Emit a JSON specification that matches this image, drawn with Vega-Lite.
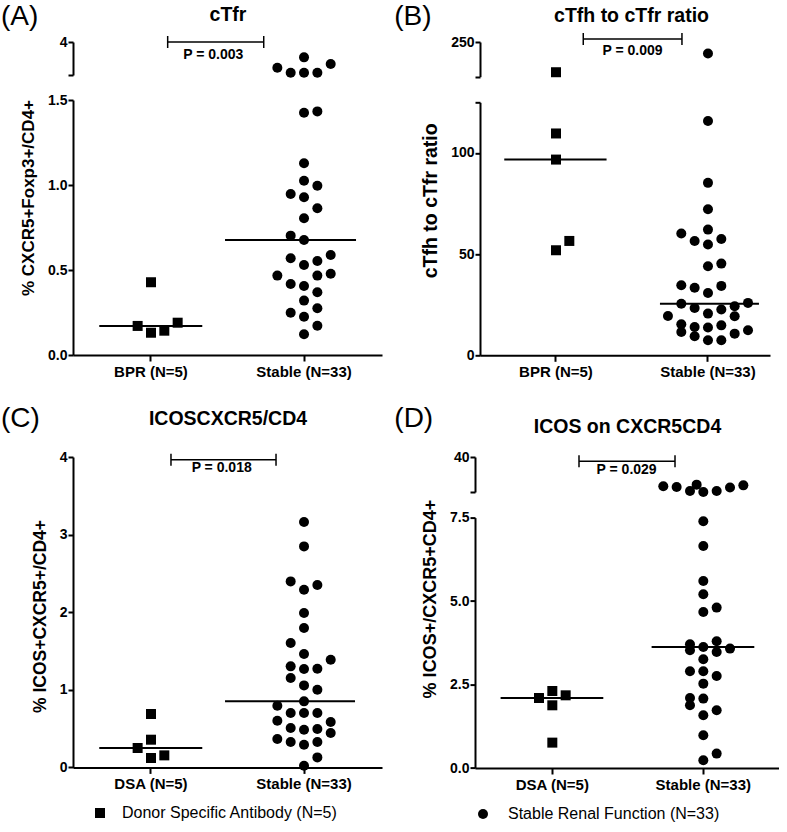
{
  "$schema": "https://vega.github.io/schema/vega-lite/v6.json",
  "padding": {"left": 0, "top": 2, "right": 0, "bottom": 0},
  "background": "white",
  "datasets": {
    "A": [
      {"group": "BPR (N=5)", "slot": 0, "value": 0.428},
      {"group": "BPR (N=5)", "slot": -1, "value": 0.171},
      {"group": "BPR (N=5)", "slot": 0, "value": 0.131},
      {"group": "BPR (N=5)", "slot": 1, "value": 0.143},
      {"group": "BPR (N=5)", "slot": 2, "value": 0.19},
      {"group": "Stable (N=33)", "slot": 0, "value": 3.07},
      {"group": "Stable (N=33)", "slot": -2, "value": 2.44},
      {"group": "Stable (N=33)", "slot": 2, "value": 2.67},
      {"group": "Stable (N=33)", "slot": -1, "value": 2.14},
      {"group": "Stable (N=33)", "slot": 0, "value": 2.14},
      {"group": "Stable (N=33)", "slot": 1, "value": 2.14},
      {"group": "Stable (N=33)", "slot": 0, "value": 1.425},
      {"group": "Stable (N=33)", "slot": 1, "value": 1.433},
      {"group": "Stable (N=33)", "slot": 0, "value": 1.128},
      {"group": "Stable (N=33)", "slot": 0, "value": 1.025},
      {"group": "Stable (N=33)", "slot": 1, "value": 0.996},
      {"group": "Stable (N=33)", "slot": -1, "value": 0.947},
      {"group": "Stable (N=33)", "slot": 0, "value": 0.928},
      {"group": "Stable (N=33)", "slot": 1, "value": 0.863},
      {"group": "Stable (N=33)", "slot": 0, "value": 0.804},
      {"group": "Stable (N=33)", "slot": -1, "value": 0.702},
      {"group": "Stable (N=33)", "slot": 0, "value": 0.676},
      {"group": "Stable (N=33)", "slot": -1, "value": 0.569},
      {"group": "Stable (N=33)", "slot": 2, "value": 0.588},
      {"group": "Stable (N=33)", "slot": 0, "value": 0.529},
      {"group": "Stable (N=33)", "slot": 1, "value": 0.553},
      {"group": "Stable (N=33)", "slot": -2, "value": 0.467},
      {"group": "Stable (N=33)", "slot": 1, "value": 0.467},
      {"group": "Stable (N=33)", "slot": 2, "value": 0.478},
      {"group": "Stable (N=33)", "slot": -1, "value": 0.418},
      {"group": "Stable (N=33)", "slot": 0, "value": 0.406},
      {"group": "Stable (N=33)", "slot": 1, "value": 0.369},
      {"group": "Stable (N=33)", "slot": 0, "value": 0.32},
      {"group": "Stable (N=33)", "slot": -1, "value": 0.249},
      {"group": "Stable (N=33)", "slot": 1, "value": 0.275},
      {"group": "Stable (N=33)", "slot": 0, "value": 0.225},
      {"group": "Stable (N=33)", "slot": 1, "value": 0.172},
      {"group": "Stable (N=33)", "slot": 0, "value": 0.122}
    ],
    "B": [
      {"group": "BPR (N=5)", "slot": 0, "value": 162.9},
      {"group": "BPR (N=5)", "slot": 0, "value": 109.6},
      {"group": "BPR (N=5)", "slot": 0, "value": 96.7},
      {"group": "BPR (N=5)", "slot": 0, "value": 51.9},
      {"group": "BPR (N=5)", "slot": 1, "value": 56.5},
      {"group": "Stable (N=33)", "slot": 0, "value": 216.8},
      {"group": "Stable (N=33)", "slot": 0, "value": 115.8},
      {"group": "Stable (N=33)", "slot": 0, "value": 85.2},
      {"group": "Stable (N=33)", "slot": 0, "value": 72.2},
      {"group": "Stable (N=33)", "slot": -2, "value": 60.2},
      {"group": "Stable (N=33)", "slot": 0, "value": 62.1},
      {"group": "Stable (N=33)", "slot": -1, "value": 56.5},
      {"group": "Stable (N=33)", "slot": 0, "value": 54.7},
      {"group": "Stable (N=33)", "slot": 1, "value": 57.5},
      {"group": "Stable (N=33)", "slot": 0, "value": 44.0},
      {"group": "Stable (N=33)", "slot": 1, "value": 45.3},
      {"group": "Stable (N=33)", "slot": -2, "value": 34.6},
      {"group": "Stable (N=33)", "slot": -1, "value": 33.4},
      {"group": "Stable (N=33)", "slot": 0, "value": 30.8},
      {"group": "Stable (N=33)", "slot": 1, "value": 34.3},
      {"group": "Stable (N=33)", "slot": -2, "value": 25.5},
      {"group": "Stable (N=33)", "slot": -1, "value": 23.4},
      {"group": "Stable (N=33)", "slot": 0, "value": 20.6},
      {"group": "Stable (N=33)", "slot": 1, "value": 22.6},
      {"group": "Stable (N=33)", "slot": 2, "value": 24.2},
      {"group": "Stable (N=33)", "slot": 3, "value": 25.9},
      {"group": "Stable (N=33)", "slot": -3, "value": 19.4},
      {"group": "Stable (N=33)", "slot": 2, "value": 19.3},
      {"group": "Stable (N=33)", "slot": -2, "value": 15.3},
      {"group": "Stable (N=33)", "slot": -1, "value": 14.0},
      {"group": "Stable (N=33)", "slot": 0, "value": 13.7},
      {"group": "Stable (N=33)", "slot": 1, "value": 14.8},
      {"group": "Stable (N=33)", "slot": -2, "value": 11.5},
      {"group": "Stable (N=33)", "slot": -1, "value": 9.4},
      {"group": "Stable (N=33)", "slot": 0, "value": 7.4},
      {"group": "Stable (N=33)", "slot": 1, "value": 7.4},
      {"group": "Stable (N=33)", "slot": 2, "value": 10.7},
      {"group": "Stable (N=33)", "slot": 3, "value": 12.4}
    ],
    "C": [
      {"group": "DSA (N=5)", "slot": 0, "value": 0.688},
      {"group": "DSA (N=5)", "slot": 0, "value": 0.357},
      {"group": "DSA (N=5)", "slot": -1, "value": 0.25},
      {"group": "DSA (N=5)", "slot": 0, "value": 0.121},
      {"group": "DSA (N=5)", "slot": 1, "value": 0.155},
      {"group": "Stable (N=33)", "slot": 0, "value": 3.162},
      {"group": "Stable (N=33)", "slot": 0, "value": 2.848},
      {"group": "Stable (N=33)", "slot": -1, "value": 2.397},
      {"group": "Stable (N=33)", "slot": 0, "value": 2.29},
      {"group": "Stable (N=33)", "slot": 1, "value": 2.35},
      {"group": "Stable (N=33)", "slot": 0, "value": 1.99},
      {"group": "Stable (N=33)", "slot": 0, "value": 1.796},
      {"group": "Stable (N=33)", "slot": -1, "value": 1.603},
      {"group": "Stable (N=33)", "slot": 0, "value": 1.461},
      {"group": "Stable (N=33)", "slot": 2, "value": 1.388},
      {"group": "Stable (N=33)", "slot": -1, "value": 1.302},
      {"group": "Stable (N=33)", "slot": 0, "value": 1.268},
      {"group": "Stable (N=33)", "slot": 1, "value": 1.272},
      {"group": "Stable (N=33)", "slot": -1, "value": 1.152},
      {"group": "Stable (N=33)", "slot": 0, "value": 1.057},
      {"group": "Stable (N=33)", "slot": 1, "value": 1.001},
      {"group": "Stable (N=33)", "slot": 0, "value": 0.851},
      {"group": "Stable (N=33)", "slot": -2, "value": 0.795},
      {"group": "Stable (N=33)", "slot": -1, "value": 0.701},
      {"group": "Stable (N=33)", "slot": 0, "value": 0.701},
      {"group": "Stable (N=33)", "slot": 1, "value": 0.701},
      {"group": "Stable (N=33)", "slot": -2, "value": 0.602},
      {"group": "Stable (N=33)", "slot": 2, "value": 0.585},
      {"group": "Stable (N=33)", "slot": -1, "value": 0.508},
      {"group": "Stable (N=33)", "slot": 0, "value": 0.486},
      {"group": "Stable (N=33)", "slot": 1, "value": 0.495},
      {"group": "Stable (N=33)", "slot": 2, "value": 0.443},
      {"group": "Stable (N=33)", "slot": -2, "value": 0.366},
      {"group": "Stable (N=33)", "slot": -1, "value": 0.327},
      {"group": "Stable (N=33)", "slot": 0, "value": 0.293},
      {"group": "Stable (N=33)", "slot": 1, "value": 0.327},
      {"group": "Stable (N=33)", "slot": 1, "value": 0.129},
      {"group": "Stable (N=33)", "slot": 0, "value": 0.022}
    ],
    "D": [
      {"group": "DSA (N=5)", "slot": 0, "value": 2.306},
      {"group": "DSA (N=5)", "slot": -1, "value": 2.096},
      {"group": "DSA (N=5)", "slot": 1, "value": 2.177},
      {"group": "DSA (N=5)", "slot": 0, "value": 1.878},
      {"group": "DSA (N=5)", "slot": 0, "value": 0.76},
      {"group": "Stable (N=33)", "slot": -3, "value": 14.9},
      {"group": "Stable (N=33)", "slot": -2, "value": 14.3},
      {"group": "Stable (N=33)", "slot": -0.5, "value": 16.3},
      {"group": "Stable (N=33)", "slot": -1, "value": 10.9},
      {"group": "Stable (N=33)", "slot": 0, "value": 10.0},
      {"group": "Stable (N=33)", "slot": 1, "value": 10.9},
      {"group": "Stable (N=33)", "slot": 2, "value": 13.8},
      {"group": "Stable (N=33)", "slot": 3, "value": 15.7},
      {"group": "Stable (N=33)", "slot": 0, "value": 7.388},
      {"group": "Stable (N=33)", "slot": 0, "value": 6.649},
      {"group": "Stable (N=33)", "slot": 0, "value": 5.601},
      {"group": "Stable (N=33)", "slot": 0, "value": 5.202},
      {"group": "Stable (N=33)", "slot": 0, "value": 4.672},
      {"group": "Stable (N=33)", "slot": 1, "value": 4.804},
      {"group": "Stable (N=33)", "slot": -1, "value": 3.705},
      {"group": "Stable (N=33)", "slot": -1, "value": 3.525},
      {"group": "Stable (N=33)", "slot": 0, "value": 3.624},
      {"group": "Stable (N=33)", "slot": 1, "value": 3.795},
      {"group": "Stable (N=33)", "slot": 1, "value": 3.474},
      {"group": "Stable (N=33)", "slot": 2, "value": 3.576},
      {"group": "Stable (N=33)", "slot": 0, "value": 3.255},
      {"group": "Stable (N=33)", "slot": -1, "value": 2.896},
      {"group": "Stable (N=33)", "slot": 0, "value": 2.896},
      {"group": "Stable (N=33)", "slot": 1, "value": 2.756},
      {"group": "Stable (N=33)", "slot": 0, "value": 2.527},
      {"group": "Stable (N=33)", "slot": -1, "value": 2.096},
      {"group": "Stable (N=33)", "slot": -1, "value": 1.878},
      {"group": "Stable (N=33)", "slot": 0, "value": 2.078},
      {"group": "Stable (N=33)", "slot": 0, "value": 1.578},
      {"group": "Stable (N=33)", "slot": 1, "value": 1.728},
      {"group": "Stable (N=33)", "slot": 0, "value": 0.979},
      {"group": "Stable (N=33)", "slot": 0, "value": 0.231},
      {"group": "Stable (N=33)", "slot": 1, "value": 0.431}
    ]
  },
  "spacing": 24,
  "resolve": {"scale": {"shape": "independent"}, "legend": {"shape": "independent"}},
  "vconcat": [
    {
      "spacing": 12,
      "resolve": {"scale": {"shape": "independent"}, "legend": {"shape": "independent"}},
      "hconcat": [
        {
          "spacing": 25,
          "bounds": "flush",
          "vconcat": [
            {
              "width": 309, "height": 33,
              "layer": [
                {
                  "data": {"name": "A"},
                  "transform": [{"filter": "datum.value > 1.5"}],
                  "mark": {"type": "point", "filled": true, "opacity": 1, "color": "#000", "size": 100, "strokeWidth": 0},
                  "encoding": {
                    "x": {"field": "group", "type": "nominal", "scale": {"domain": ["BPR (N=5)", "Stable (N=33)"], "paddingInner": 0.477, "paddingOuter": 0.248, "round": false}, "axis": {"orient": "top", "labels": false, "ticks": false, "domain": false, "title": "cTfr", "titleFontSize": 19.5, "titleBaseline": "alphabetic", "titleY": -22}},
                    "xOffset": {"field": "slot", "type": "ordinal", "scale": {"domain": [-3, -2.5, -2, -1.5, -1, -0.5, 0, 0.5, 1, 1.5, 2, 2.5, 3], "paddingInner": 0, "paddingOuter": 0}},
                    "y": {"field": "value", "type": "quantitative", "scale": {"domain": [2, 4], "nice": false, "zero": false}, "axis": {"values": [2, 4], "labelExpr": "datum.value == 4 ? '4' : ''", "title": null}},
                    "shape": {"field": "group", "type": "nominal", "scale": {"domain": ["BPR (N=5)", "Stable (N=33)"], "range": ["square", "circle"]}, "legend": null}
                  }
                },
                {
                  "data": {"values": [{"p": "P = 0.003"}]},
                  "mark": {"type": "rule", "color": "#000", "strokeWidth": 1.5, "xOffset": 16.7, "x2Offset": -40.3},
                  "encoding": {"x": {"datum": "BPR (N=5)", "type": "nominal"}, "x2": {"datum": "Stable (N=33)"}, "y": {"datum": 4, "type": "quantitative"}}
                },
                {
                  "data": {"values": [{"p": "P = 0.003"}]},
                  "mark": {"type": "rule", "color": "#000", "strokeWidth": 1.5, "xOffset": 16.7, "yOffset": -6, "y2Offset": 6},
                  "encoding": {"x": {"datum": "BPR (N=5)", "type": "nominal"}, "y": {"datum": 4, "type": "quantitative"}, "y2": {"datum": 4}}
                },
                {
                  "data": {"values": [{"p": "P = 0.003"}]},
                  "mark": {"type": "rule", "color": "#000", "strokeWidth": 1.5, "xOffset": -40.3, "yOffset": -6, "y2Offset": 6},
                  "encoding": {"x": {"datum": "Stable (N=33)", "type": "nominal"}, "y": {"datum": 4, "type": "quantitative"}, "y2": {"datum": 4}}
                },
                {
                  "data": {"values": [{"p": "P = 0.003"}]},
                  "mark": {"type": "text", "color": "#000", "fontSize": 14, "fontWeight": "bold", "align": "center", "baseline": "middle", "xOffset": 62.3, "yOffset": 13},
                  "encoding": {"x": {"datum": "BPR (N=5)", "type": "nominal"}, "y": {"datum": 4, "type": "quantitative"}, "text": {"field": "p"}}
                },
                {
                  "data": {"values": [{"panel": "(A)"}]},
                  "mark": {"type": "text", "color": "#000", "fontSize": 28, "fontWeight": "normal", "align": "left", "baseline": "alphabetic", "xOffset": -150, "yOffset": -17.5},
                  "encoding": {"x": {"datum": "BPR (N=5)", "type": "nominal"}, "y": {"datum": 4, "type": "quantitative"}, "text": {"field": "panel"}}
                }
              ]
            },
            {
              "width": 309, "height": 255,
              "data": {"name": "A"},
              "encoding": {
                "x": {"field": "group", "type": "nominal", "scale": {"domain": ["BPR (N=5)", "Stable (N=33)"], "paddingInner": 0.477, "paddingOuter": 0.248, "round": false}, "axis": {"title": null}},
                "y": {"field": "value", "type": "quantitative", "scale": {"domain": [0, 1.5], "nice": false, "zero": false}, "axis": {"values": [0, 0.5, 1, 1.5], "format": ".1f", "title": "% CXCR5+Foxp3+/CD4+", "titleFontSize": 17, "titleY": 97.5}}
              },
              "layer": [
                {
                  "transform": [{"filter": "datum.value <= 1.5"}],
                  "mark": {"type": "point", "filled": true, "opacity": 1, "color": "#000", "size": 100, "strokeWidth": 0},
                  "encoding": {
                    "xOffset": {"field": "slot", "type": "ordinal", "scale": {"domain": [-3, -2.5, -2, -1.5, -1, -0.5, 0, 0.5, 1, 1.5, 2, 2.5, 3], "paddingInner": 0, "paddingOuter": 0}},
                    "shape": {"field": "group", "type": "nominal", "scale": {"domain": ["BPR (N=5)", "Stable (N=33)"], "range": ["square", "circle"]}, "legend": null}
                  }
                },
                {
                  "transform": [{"filter": "datum.group === 'BPR (N=5)'"}],
                  "mark": {"type": "rule", "color": "#000", "strokeWidth": 2, "xOffset": -51.7, "x2Offset": 51.3},
                  "encoding": {"x2": {"field": "group"}, "y": {"aggregate": "median", "field": "value", "type": "quantitative"}}
                },
                {
                  "transform": [{"filter": "datum.group === 'Stable (N=33)'"}],
                  "mark": {"type": "rule", "color": "#000", "strokeWidth": 2, "xOffset": -79, "x2Offset": 52},
                  "encoding": {"x2": {"field": "group"}, "y": {"aggregate": "median", "field": "value", "type": "quantitative"}}
                }
              ]
            }
          ]
        },
        {
          "spacing": 25.3,
          "bounds": "flush",
          "vconcat": [
            {
              "width": 290, "height": 34.7,
              "layer": [
                {
                  "data": {"name": "B"},
                  "transform": [{"filter": "datum.value > 125"}],
                  "mark": {"type": "point", "filled": true, "opacity": 1, "color": "#000", "size": 100, "strokeWidth": 0},
                  "encoding": {
                    "x": {"field": "group", "type": "nominal", "scale": {"domain": ["BPR (N=5)", "Stable (N=33)"], "paddingInner": 0.4737, "paddingOuter": 0.1908, "align": 0.62, "round": false}, "axis": {"orient": "top", "labels": false, "ticks": false, "domain": false, "title": "cTfh to cTfr ratio", "titleFontSize": 19.5, "titleBaseline": "alphabetic", "titleY": -21, "titleX": 151}},
                    "xOffset": {"field": "slot", "type": "ordinal", "scale": {"domain": [-3, -2.5, -2, -1.5, -1, -0.5, 0, 0.5, 1, 1.5, 2, 2.5, 3], "paddingInner": 0, "paddingOuter": 0}},
                    "y": {"field": "value", "type": "quantitative", "scale": {"domain": [150, 250], "nice": false, "zero": false}, "axis": {"values": [150, 250], "labelExpr": "datum.value == 250 ? '250' : ''", "title": null}},
                    "shape": {"field": "group", "type": "nominal", "scale": {"domain": ["BPR (N=5)", "Stable (N=33)"], "range": ["square", "circle"]}, "legend": null}
                  }
                },
                {
                  "data": {"values": [{"p": "P = 0.009"}]},
                  "mark": {"type": "rule", "color": "#000", "strokeWidth": 1.5, "xOffset": 27.3, "x2Offset": -26, "yOffset": -3},
                  "encoding": {"x": {"datum": "BPR (N=5)", "type": "nominal"}, "x2": {"datum": "Stable (N=33)"}, "y": {"datum": 250, "type": "quantitative"}}
                },
                {
                  "data": {"values": [{"p": "P = 0.009"}]},
                  "mark": {"type": "rule", "color": "#000", "strokeWidth": 1.5, "xOffset": 27.3, "yOffset": -9, "y2Offset": 3},
                  "encoding": {"x": {"datum": "BPR (N=5)", "type": "nominal"}, "y": {"datum": 250, "type": "quantitative"}, "y2": {"datum": 250}}
                },
                {
                  "data": {"values": [{"p": "P = 0.009"}]},
                  "mark": {"type": "rule", "color": "#000", "strokeWidth": 1.5, "xOffset": -26, "yOffset": -9, "y2Offset": 3},
                  "encoding": {"x": {"datum": "Stable (N=33)", "type": "nominal"}, "y": {"datum": 250, "type": "quantitative"}, "y2": {"datum": 250}}
                },
                {
                  "data": {"values": [{"p": "P = 0.009"}]},
                  "mark": {"type": "text", "color": "#000", "fontSize": 14, "fontWeight": "bold", "align": "center", "baseline": "middle", "xOffset": 76.6, "yOffset": 9.3},
                  "encoding": {"x": {"datum": "BPR (N=5)", "type": "nominal"}, "y": {"datum": 250, "type": "quantitative"}, "text": {"field": "p"}}
                },
                {
                  "data": {"values": [{"panel": "(B)"}]},
                  "mark": {"type": "text", "color": "#000", "fontSize": 28, "fontWeight": "normal", "align": "left", "baseline": "alphabetic", "xOffset": -161.7, "yOffset": -17.5},
                  "encoding": {"x": {"datum": "BPR (N=5)", "type": "nominal"}, "y": {"datum": 250, "type": "quantitative"}, "text": {"field": "panel"}}
                }
              ]
            },
            {
              "width": 290, "height": 253,
              "data": {"name": "B"},
              "encoding": {
                "x": {"field": "group", "type": "nominal", "scale": {"domain": ["BPR (N=5)", "Stable (N=33)"], "paddingInner": 0.4737, "paddingOuter": 0.1908, "align": 0.62, "round": false}, "axis": {"title": null}},
                "y": {"field": "value", "type": "quantitative", "scale": {"domain": [0, 125], "nice": false, "zero": false}, "axis": {"values": [0, 50, 100, 125], "labelExpr": "datum.value == 125 ? '' : datum.label", "title": "cTfh to cTfr ratio", "titleFontSize": 19.5, "titleY": 98}}
              },
              "layer": [
                {
                  "transform": [{"filter": "datum.value <= 125"}],
                  "mark": {"type": "point", "filled": true, "opacity": 1, "color": "#000", "size": 100, "strokeWidth": 0},
                  "encoding": {
                    "xOffset": {"field": "slot", "type": "ordinal", "scale": {"domain": [-3, -2.5, -2, -1.5, -1, -0.5, 0, 0.5, 1, 1.5, 2, 2.5, 3], "paddingInner": 0, "paddingOuter": 0}},
                    "shape": {"field": "group", "type": "nominal", "scale": {"domain": ["BPR (N=5)", "Stable (N=33)"], "range": ["square", "circle"]}, "legend": null}
                  }
                },
                {
                  "transform": [{"filter": "datum.group === 'BPR (N=5)'"}],
                  "mark": {"type": "rule", "color": "#000", "strokeWidth": 2, "xOffset": -51.7, "x2Offset": 50.6},
                  "encoding": {"x2": {"field": "group"}, "y": {"aggregate": "median", "field": "value", "type": "quantitative"}}
                },
                {
                  "transform": [{"filter": "datum.group === 'Stable (N=33)'"}],
                  "mark": {"type": "rule", "color": "#000", "strokeWidth": 2, "xOffset": -48, "x2Offset": 51},
                  "encoding": {"x2": {"field": "group"}, "y": {"aggregate": "median", "field": "value", "type": "quantitative"}}
                }
              ]
            }
          ]
        }
      ]
    },
    {
      "spacing": 12,
      "resolve": {"scale": {"shape": "independent"}, "legend": {"shape": "independent"}},
      "hconcat": [
        {
          "width": 309, "height": 310.4,
          "resolve": {"axis": {"x": "independent"}},
          "layer": [
            {
              "data": {"name": "C"},
              "mark": {"type": "point", "filled": true, "opacity": 1, "color": "#000", "size": 100, "strokeWidth": 0},
              "encoding": {
                "x": {"field": "group", "type": "nominal", "scale": {"domain": ["DSA (N=5)", "Stable (N=33)"], "paddingInner": 0.477, "paddingOuter": 0.248, "round": false}, "axis": {"title": null, "orient": "bottom"}},
                "xOffset": {"field": "slot", "type": "ordinal", "scale": {"domain": [-3, -2.5, -2, -1.5, -1, -0.5, 0, 0.5, 1, 1.5, 2, 2.5, 3], "paddingInner": 0, "paddingOuter": 0}},
                "y": {"field": "value", "type": "quantitative", "scale": {"domain": [0, 4], "nice": false, "zero": false}, "axis": {"values": [0, 1, 2, 3, 4], "format": "d", "title": "% ICOS+CXCR5+/CD4+", "titleFontSize": 17.5, "titleY": 159}},
                "shape": {"field": "group", "type": "nominal", "scale": {"domain": ["DSA (N=5)", "Stable (N=33)"], "range": ["square", "circle"]}, "legend": {"values": ["DSA (N=5)"], "labelExpr": "'Donor Specific Antibody (N=5)'", "title": null, "orient": "none", "legendX": 19, "legendY": 348, "direction": "horizontal", "labelFontSize": 16, "labelFontWeight": "normal", "labelFont": "Liberation Sans", "labelColor": "#000", "labelOffset": 14, "labelLimit": 400, "symbolSize": 100, "symbolFillColor": "#000", "symbolStrokeWidth": 0}}
              }
            },
            {
              "data": {"name": "C"},
              "transform": [{"filter": "datum.group === 'DSA (N=5)'"}],
              "mark": {"type": "rule", "color": "#000", "strokeWidth": 2, "xOffset": -51.7, "x2Offset": 51.3},
              "encoding": {"x": {"field": "group", "type": "nominal", "axis": null}, "x2": {"field": "group"}, "y": {"aggregate": "median", "field": "value", "type": "quantitative"}}
            },
            {
              "data": {"name": "C"},
              "transform": [{"filter": "datum.group === 'Stable (N=33)'"}],
              "mark": {"type": "rule", "color": "#000", "strokeWidth": 2, "xOffset": -79, "x2Offset": 51},
              "encoding": {"x": {"field": "group", "type": "nominal", "axis": null}, "x2": {"field": "group"}, "y": {"aggregate": "median", "field": "value", "type": "quantitative"}}
            },
            {
              "data": {"values": [{"p": "P = 0.018"}]},
              "mark": {"type": "rule", "color": "#000", "strokeWidth": 1.5, "xOffset": 20, "x2Offset": -28, "yOffset": 2.7},
              "encoding": {"x": {"datum": "DSA (N=5)", "type": "nominal", "axis": {"orient": "top", "labels": false, "ticks": false, "domain": false, "title": "ICOSCXCR5/CD4", "titleFontSize": 19.5, "titleBaseline": "alphabetic", "titleY": -32.3}}, "x2": {"datum": "Stable (N=33)"}, "y": {"datum": 4, "type": "quantitative"}}
            },
            {
              "data": {"values": [{"p": "P = 0.018"}]},
              "mark": {"type": "rule", "color": "#000", "strokeWidth": 1.5, "xOffset": 20, "yOffset": -3.3, "y2Offset": 8.7},
              "encoding": {"x": {"datum": "DSA (N=5)", "type": "nominal", "axis": null}, "y": {"datum": 4, "type": "quantitative"}, "y2": {"datum": 4}}
            },
            {
              "data": {"values": [{"p": "P = 0.018"}]},
              "mark": {"type": "rule", "color": "#000", "strokeWidth": 1.5, "xOffset": -28, "yOffset": -3.3, "y2Offset": 8.7},
              "encoding": {"x": {"datum": "Stable (N=33)", "type": "nominal", "axis": null}, "y": {"datum": 4, "type": "quantitative"}, "y2": {"datum": 4}}
            },
            {
              "data": {"values": [{"p": "P = 0.018"}]},
              "mark": {"type": "text", "color": "#000", "fontSize": 14, "fontWeight": "bold", "align": "center", "baseline": "middle", "xOffset": 70.7, "yOffset": 10.7},
              "encoding": {"x": {"datum": "DSA (N=5)", "type": "nominal", "axis": null}, "y": {"datum": 4, "type": "quantitative"}, "text": {"field": "p"}}
            },
            {
              "data": {"values": [{"panel": "(C)"}]},
              "mark": {"type": "text", "color": "#000", "fontSize": 28, "fontWeight": "normal", "align": "left", "baseline": "alphabetic", "xOffset": -150, "yOffset": -30.3},
              "encoding": {"x": {"datum": "DSA (N=5)", "type": "nominal", "axis": null}, "y": {"datum": 4, "type": "quantitative"}, "text": {"field": "panel"}}
            }
          ]
        },
        {
          "spacing": 25.6,
          "bounds": "flush",
          "vconcat": [
            {
              "width": 304, "height": 35,
              "layer": [
                {
                  "data": {"name": "D"},
                  "transform": [{"filter": "datum.value > 7.5"}],
                  "mark": {"type": "point", "filled": true, "opacity": 1, "color": "#000", "size": 100, "strokeWidth": 0},
                  "encoding": {
                    "x": {"field": "group", "type": "nominal", "scale": {"domain": ["DSA (N=5)", "Stable (N=33)"], "paddingInner": 0.4702, "paddingOuter": 0.2417, "align": 0.511, "round": false}, "axis": {"orient": "top", "labels": false, "ticks": false, "domain": false, "title": "ICOS on CXCR5CD4", "titleFontSize": 19.5, "titleBaseline": "alphabetic", "titleY": -25}},
                    "xOffset": {"field": "slot", "type": "ordinal", "scale": {"domain": [-3, -2.5, -2, -1.5, -1, -0.5, 0, 0.5, 1, 1.5, 2, 2.5, 3], "paddingInner": 0, "paddingOuter": 0}},
                    "y": {"field": "value", "type": "quantitative", "scale": {"domain": [10, 40], "nice": false, "zero": false}, "axis": {"values": [10, 40], "labelExpr": "datum.value == 40 ? '40' : ''", "title": null}},
                    "shape": {"field": "group", "type": "nominal", "scale": {"domain": ["DSA (N=5)", "Stable (N=33)"], "range": ["square", "circle"]}, "legend": {"values": ["Stable (N=33)"], "labelExpr": "'Stable Renal Function (N=33)'", "title": null, "orient": "bottom", "direction": "horizontal", "offset": 14, "labelFontSize": 16, "labelFontWeight": "normal", "labelFont": "Liberation Sans", "labelColor": "#000", "labelOffset": 17, "labelLimit": 400, "symbolSize": 100, "symbolFillColor": "#000", "symbolStrokeWidth": 0}}
                  }
                },
                {
                  "data": {"values": [{"p": "P = 0.029"}]},
                  "mark": {"type": "rule", "color": "#000", "strokeWidth": 1.5, "xOffset": 26.7, "x2Offset": -28.3, "yOffset": 4.3},
                  "encoding": {"x": {"datum": "DSA (N=5)", "type": "nominal"}, "x2": {"datum": "Stable (N=33)"}, "y": {"datum": 40, "type": "quantitative"}}
                },
                {
                  "data": {"values": [{"p": "P = 0.029"}]},
                  "mark": {"type": "rule", "color": "#000", "strokeWidth": 1.5, "xOffset": 26.7, "yOffset": -1.7, "y2Offset": 10.3},
                  "encoding": {"x": {"datum": "DSA (N=5)", "type": "nominal"}, "y": {"datum": 40, "type": "quantitative"}, "y2": {"datum": 40}}
                },
                {
                  "data": {"values": [{"p": "P = 0.029"}]},
                  "mark": {"type": "rule", "color": "#000", "strokeWidth": 1.5, "xOffset": -28.3, "yOffset": -1.7, "y2Offset": 10.3},
                  "encoding": {"x": {"datum": "Stable (N=33)", "type": "nominal"}, "y": {"datum": 40, "type": "quantitative"}, "y2": {"datum": 40}}
                },
                {
                  "data": {"values": [{"p": "P = 0.029"}]},
                  "mark": {"type": "text", "color": "#000", "fontSize": 14, "fontWeight": "bold", "align": "center", "baseline": "middle", "xOffset": 74.3, "yOffset": 13.3},
                  "encoding": {"x": {"datum": "DSA (N=5)", "type": "nominal"}, "y": {"datum": 40, "type": "quantitative"}, "text": {"field": "p"}}
                },
                {
                  "data": {"values": [{"panel": "(D)"}]},
                  "mark": {"type": "text", "color": "#000", "fontSize": 28, "fontWeight": "normal", "align": "left", "baseline": "alphabetic", "xOffset": -158, "yOffset": -29.7},
                  "encoding": {"x": {"datum": "DSA (N=5)", "type": "nominal"}, "y": {"datum": 40, "type": "quantitative"}, "text": {"field": "panel"}}
                }
              ]
            },
            {
              "width": 304, "height": 250.4,
              "data": {"name": "D"},
              "encoding": {
                "x": {"field": "group", "type": "nominal", "scale": {"domain": ["DSA (N=5)", "Stable (N=33)"], "paddingInner": 0.4702, "paddingOuter": 0.2417, "align": 0.511, "round": false}, "axis": {"title": null}},
                "y": {"field": "value", "type": "quantitative", "scale": {"domain": [0, 7.5], "nice": false, "zero": false}, "axis": {"values": [0, 2.5, 5, 7.5], "format": ".1f", "title": "% ICOS+/CXCR5+CD4+", "titleFontSize": 18, "titleY": 81}}
              },
              "layer": [
                {
                  "transform": [{"filter": "datum.value <= 7.5"}],
                  "mark": {"type": "point", "filled": true, "opacity": 1, "color": "#000", "size": 100, "strokeWidth": 0},
                  "encoding": {
                    "xOffset": {"field": "slot", "type": "ordinal", "scale": {"domain": [-3, -2.5, -2, -1.5, -1, -0.5, 0, 0.5, 1, 1.5, 2, 2.5, 3], "paddingInner": 0, "paddingOuter": 0}},
                    "shape": {"field": "group", "type": "nominal", "scale": {"domain": ["DSA (N=5)", "Stable (N=33)"], "range": ["square", "circle"]}, "legend": {"values": ["Stable (N=33)"], "labelExpr": "'Stable Renal Function (N=33)'", "title": null, "orient": "bottom", "direction": "horizontal", "offset": 14, "labelFontSize": 16, "labelFontWeight": "normal", "labelFont": "Liberation Sans", "labelColor": "#000", "labelOffset": 17, "labelLimit": 400, "symbolSize": 100, "symbolFillColor": "#000", "symbolStrokeWidth": 0}}
                  }
                },
                {
                  "transform": [{"filter": "datum.group === 'DSA (N=5)'"}],
                  "mark": {"type": "rule", "color": "#000", "strokeWidth": 2, "xOffset": -51.7, "x2Offset": 51},
                  "encoding": {"x2": {"field": "group"}, "y": {"aggregate": "median", "field": "value", "type": "quantitative"}}
                },
                {
                  "transform": [{"filter": "datum.group === 'Stable (N=33)'"}],
                  "mark": {"type": "rule", "color": "#000", "strokeWidth": 2, "xOffset": -51.7, "x2Offset": 51},
                  "encoding": {"x2": {"field": "group"}, "y": {"aggregate": "median", "field": "value", "type": "quantitative"}}
                }
              ]
            }
          ]
        }
      ]
    }
  ],
  "config": {
    "font": "Liberation Sans",
    "view": {"stroke": null},
    "title": {"font": "Liberation Sans", "color": "#000"},
    "axis": {"grid": false, "domainColor": "#000", "domainWidth": 2, "tickColor": "#000", "tickWidth": 2, "tickSize": 5, "labelColor": "#000", "labelFont": "Liberation Sans", "labelFontSize": 14, "labelFontWeight": "bold", "labelPadding": 1, "titleColor": "#000", "titleFont": "Liberation Sans", "titleFontWeight": "bold", "titlePadding": 10},
    "axisX": {"labelFontSize": 15, "labelPadding": 3, "labelAngle": 0, "tickSize": 6}
  }
}
